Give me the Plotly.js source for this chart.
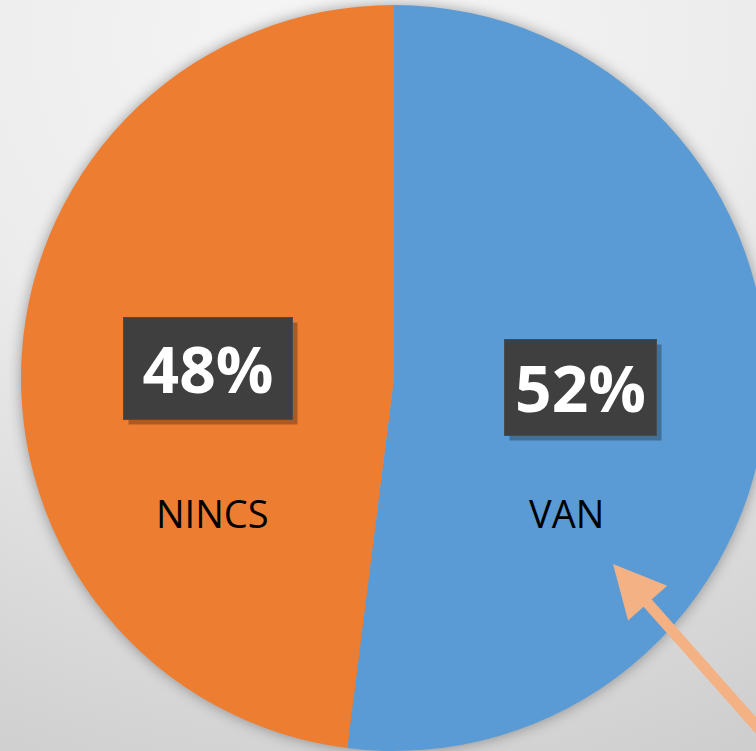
<!DOCTYPE html>
<html>
<head>
<meta charset="utf-8">
<script src="https://cdn.plot.ly/plotly-3.0.1.min.js"></script>
<style>
  html, body { margin: 0; padding: 0; width: 756px; height: 751px; overflow: hidden; }
  body { background: radial-gradient(ellipse 120% 110% at 45% 5%, #f6f6f6 0%, #ececec 45%, #dadada 75%, #cccccc 100%); }
  #chart { width: 788px; height: 756px; }
  #chart .pielayer { filter: drop-shadow(0 0 7px rgba(0,0,0,0.35)); }
</style>
</head>
<body>
<div id="chart"></div>
<script>
// Data
const categories = ["VAN", "NINCS"];
const values = [52, 48];
const colors = ["#5B9BD5", "#ED7D31"];
const pctLabels = ["52%", "48%"];

const W = 788, H = 756;
const margin = {l: 21, r: 21, t: 5, b: 5};
const pw = W - margin.l - margin.r, ph = H - margin.t - margin.b;
const px = x => (x - margin.l) / pw;
const py = y => 1 - (y - margin.t) / ph;

// label placement (pixel positions of box centres and names)
const boxPos = [{x: 580, y: 387, w: 151, h: 95}, {x: 208, y: 368, w: 168, h: 101}];
const namePos = [{x: 566, y: 513}, {x: 212, y: 513}];

const annotations = [];
categories.forEach((c, i) => {
  const b = boxPos[i];
  // shadow
  annotations.push({
    xref: 'paper', yref: 'paper', x: px(b.x + 5), y: py(b.y + 5),
    xanchor: 'center', yanchor: 'middle',
    text: ' ', showarrow: false, width: b.w, height: b.h,
    bgcolor: 'rgba(0,0,0,0.28)', borderpad: 0
  });
  annotations.push({
    xref: 'paper', yref: 'paper', x: px(b.x), y: py(b.y),
    xanchor: 'center', yanchor: 'middle',
    text: '<b>' + pctLabels[i] + '</b>', showarrow: false,
    width: b.w, height: b.h, bgcolor: '#3f3f3f', bordercolor: '#4a4a4a', borderwidth: 1, borderpad: 0,
    font: {family: 'Open Sans, sans-serif', size: 64, color: '#ffffff'}
  });
  annotations.push({
    xref: 'paper', yref: 'paper', x: px(namePos[i].x), y: py(namePos[i].y),
    xanchor: 'center', yanchor: 'middle',
    text: c, showarrow: false,
    font: {family: 'Open Sans, sans-serif', size: 38, color: '#000000'}
  });
});
// arrow
annotations.push({
  xref: 'paper', yref: 'paper', x: px(613), y: py(564),
  ax: 170, ay: 222, text: '', showarrow: true,
  arrowhead: 2, arrowsize: 0.95, arrowwidth: 11, arrowcolor: '#F4B183', standoff: 0
});

Plotly.newPlot('chart', [{
  type: 'pie',
  labels: categories,
  values: values,
  sort: false,
  direction: 'clockwise',
  rotation: 0,
  marker: {colors: colors, line: {width: 0}},
  textinfo: 'none',
  hoverinfo: 'label+percent',
  showlegend: false
}], {
  width: W, height: H,
  margin: margin,
  paper_bgcolor: 'rgba(0,0,0,0)',
  plot_bgcolor: 'rgba(0,0,0,0)',
  showlegend: false,
  annotations: annotations
}, {displayModeBar: false, staticPlot: true});
</script>
</body>
</html>
